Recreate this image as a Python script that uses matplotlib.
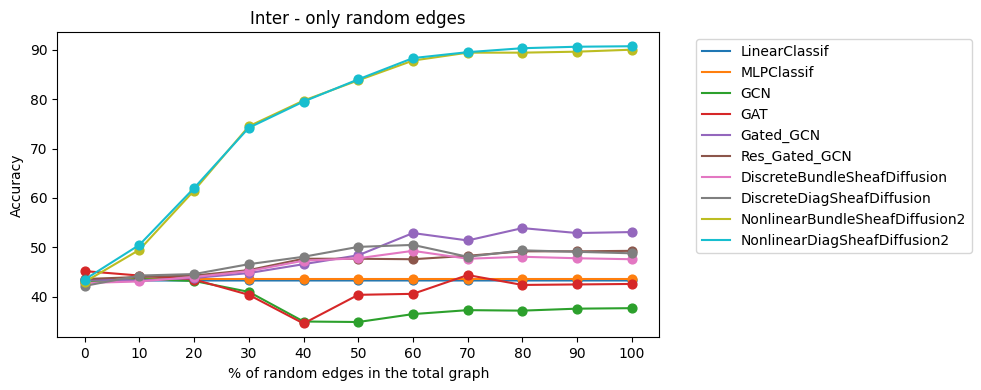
import matplotlib
matplotlib.use("Agg")
import matplotlib.pyplot as plt

x_pct = [0, 10, 20, 30, 40, 50, 60, 70, 80, 90, 100]

linear_classif = [43.4, 43.3, 43.3, 43.3, 43.3, 43.3, 43.3, 43.3, 43.3, 43.3, 43.3]
mlp_classif = [43.0, 43.6, 43.6, 43.6, 43.6, 43.6, 43.6, 43.6, 43.6, 43.6, 43.6]
gcn = [43.0, 43.6, 43.2, 41.0, 35.0, 34.9, 36.5, 37.3, 37.2, 37.6, 37.7]
gat = [45.2, 44.3, 43.5, 40.4, 34.6, 40.4, 40.6, 44.4, 42.4, 42.5, 42.6]
gated_gcn = [43.5, 43.3, 43.8, 44.8, 46.6, 48.4, 52.9, 51.4, 53.9, 52.9, 53.1]
res_gated_gcn = [43.6, 44.0, 44.3, 45.4, 47.7, 47.7, 47.6, 48.3, 49.2, 49.2, 49.3]
discrete_bundle = [42.8, 43.1, 44.0, 45.2, 47.3, 47.8, 49.3, 47.7, 48.1, 47.8, 47.6]
discrete_diag = [42.2, 44.3, 44.6, 46.6, 48.1, 50.1, 50.5, 48.1, 49.4, 49.1, 48.8]
nonlinear_bundle2 = [43.0, 49.5, 61.5, 74.5, 79.7, 83.8, 87.8, 89.4, 89.4, 89.6, 90.0]
nonlinear_diag2 = [43.5, 50.5, 62.0, 74.2, 79.5, 84.0, 88.3, 89.5, 90.3, 90.6, 90.7]

series = [
    ("LinearClassif", linear_classif),
    ("MLPClassif", mlp_classif),
    ("GCN", gcn),
    ("GAT", gat),
    ("Gated_GCN", gated_gcn),
    ("Res_Gated_GCN", res_gated_gcn),
    ("DiscreteBundleSheafDiffusion", discrete_bundle),
    ("DiscreteDiagSheafDiffusion", discrete_diag),
    ("NonlinearBundleSheafDiffusion2", nonlinear_bundle2),
    ("NonlinearDiagSheafDiffusion2", nonlinear_diag2),
]

fig, ax = plt.subplots(figsize=(9.81, 3.9), dpi=100)
for i, (name, vals) in enumerate(series):
    color = f"C{i}"
    ax.plot(x_pct, vals, color=color, label=name)
    ax.scatter(x_pct, vals, color=color, s=40, zorder=2)

ax.set_xticks(x_pct)
ax.set_title("Inter - only random edges")
ax.set_xlabel("% of random edges in the total graph")
ax.set_ylabel("Accuracy")
ax.legend(loc="upper left", bbox_to_anchor=(1.05, 1))

fig.subplots_adjust(left=0.0584, right=0.672, top=0.917, bottom=0.135)
fig.savefig("out.png", dpi=100)
